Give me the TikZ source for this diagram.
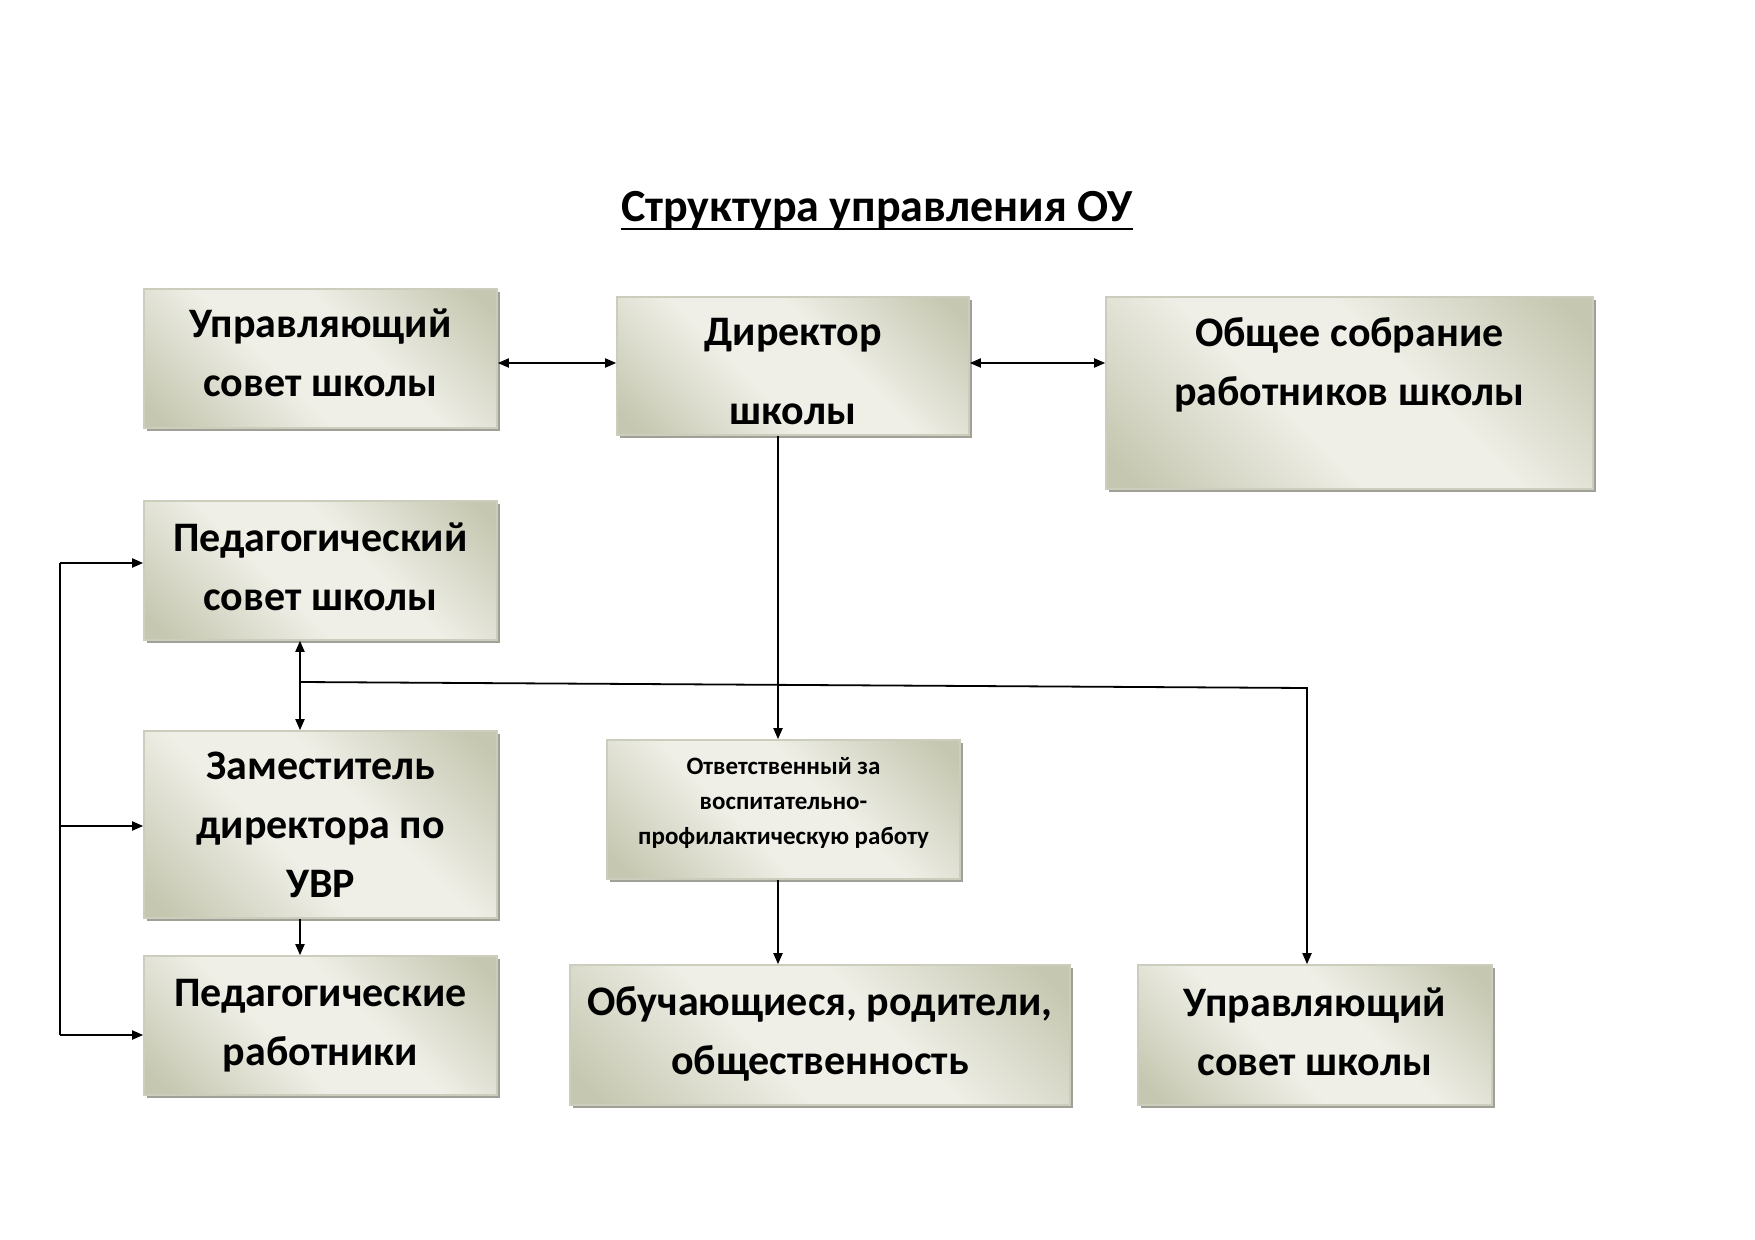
\documentclass[tikz,border=0pt]{standalone}
\usepackage{fontspec}
\setmainfont{Carlito}
\usetikzlibrary{arrows.meta,shadows}
\definecolor{bxd}{RGB}{197,199,176}
\definecolor{bxl}{RGB}{239,239,231}
\definecolor{bxline}{RGB}{205,205,190}
\definecolor{bxshadow}{RGB}{160,160,150}
\pgfdeclarehorizontalshading{boxshade}{100bp}{color(0bp)=(bxd); color(18bp)=(bxd); color(42bp)=(bxl); color(58bp)=(bxl); color(82bp)=(bxd); color(100bp)=(bxd)}
\begin{document}
\begin{tikzpicture}[x=0.5pt,y=-0.5pt,
  box/.style={draw=bxline, line width=0.8pt, shading=boxshade, shading angle=45,
    drop shadow={shadow xshift=1.5pt, shadow yshift=-1.5pt, fill=bxshadow, opacity=1},
    inner sep=0pt},
  txt/.style={inner sep=0pt, align=center, font=\bfseries\fontsize{21}{29.5}\selectfont},
  smalltxt/.style={txt, font=\bfseries\fontsize{12.5}{17.5}\selectfont},
  conn/.style={line width=0.9pt},
  >={Triangle[length=5.5pt,width=4.5pt]}]
\fill[white] (0,0) rectangle (1755,1240);
\useasboundingbox (0,0) rectangle (1755,1240);

\node[font=\bfseries\fontsize{23}{27}\selectfont, inner sep=0pt, anchor=base] (T) at (877,222) {Структура управления ОУ};
\draw[line width=1.4pt] ([yshift=-3.5pt]T.base west) -- ([yshift=-3.5pt]T.base east);

\node[box, minimum width=176.5pt, minimum height=69.5pt] (A) at (320.5,358.5) {};
\node[txt, yshift=2.8pt] (At) at (A.center) {Управляющий\\совет школы};
\node[box, minimum width=176pt, minimum height=69pt] (B) at (793,366) {};
\node[txt, yshift=-2.8pt] (Bt) at (B.center) {Директор\\[10pt]школы};
\node[box, minimum width=243.5pt, minimum height=96pt] (C) at (1349.5,393) {};
\node[txt, yshift=14.2pt] (Ct) at (C.center) {Общее собрание\\работников школы};
\node[box, minimum width=176.5pt, minimum height=69.5pt] (D) at (320.5,570.5) {};
\node[txt, yshift=2pt] (Dt) at (D.center) {Педагогический\\совет школы};
\node[box, minimum width=176.5pt, minimum height=93.5pt] (E) at (320.5,824.5) {};
\node[txt] (Et) at (E.center) {Заместитель\\директора по\\УВР};
\node[box, minimum width=176.5pt, minimum height=69.5pt] (F) at (320.5,1025.5) {};
\node[txt] (Ft) at (F.center) {Педагогические\\работники};
\node[box, minimum width=176.5pt, minimum height=69.5pt] (G) at (783.5,809.5) {};
\node[smalltxt, yshift=3.4pt] (Gt) at (G.center) {Ответственный за\\воспитательно-\\профилактическую работу};
\node[box, minimum width=250pt, minimum height=70pt] (H) at (820,1035) {};
\node[txt, yshift=0.5pt] (Ht) at (H.center) {Обучающиеся, родители,\\общественность};
\node[box, minimum width=177pt, minimum height=70pt] (I) at (1315,1035) {};
\node[txt, yshift=1.7pt] (It) at (I.center) {Управляющий\\совет школы};

\coordinate (yA) at (0,363);
\draw[conn,<->] (A.east |- yA) -- (B.west |- yA);
\draw[conn,<->] (B.east |- yA) -- (C.west |- yA);
\coordinate (vx) at (778,0);
\draw[conn,->] (B.south -| vx) -- (G.north -| vx);
\draw[conn,->] (G.south -| vx) -- (H.north -| vx);
\coordinate (lx) at (300,0);
\draw[conn,<->] (D.south -| lx) -- (E.north -| lx);
\draw[conn,->] (E.south -| lx) -- (F.north -| lx);
\coordinate (j1) at (300,682);
\coordinate (j2) at (1307,688);
\draw[conn,->] (j1) -- (j2) -- (I.north -| j2);
\coordinate (b1) at (60,563);
\coordinate (b2) at (60,826);
\coordinate (b3) at (60,1035);
\draw[conn] (b1) -- (b3);
\draw[conn,->] (b1) -- (D.west |- b1);
\draw[conn,->] (b2) -- (E.west |- b2);
\draw[conn,->] (b3) -- (F.west |- b3);
\end{tikzpicture}
\end{document}
